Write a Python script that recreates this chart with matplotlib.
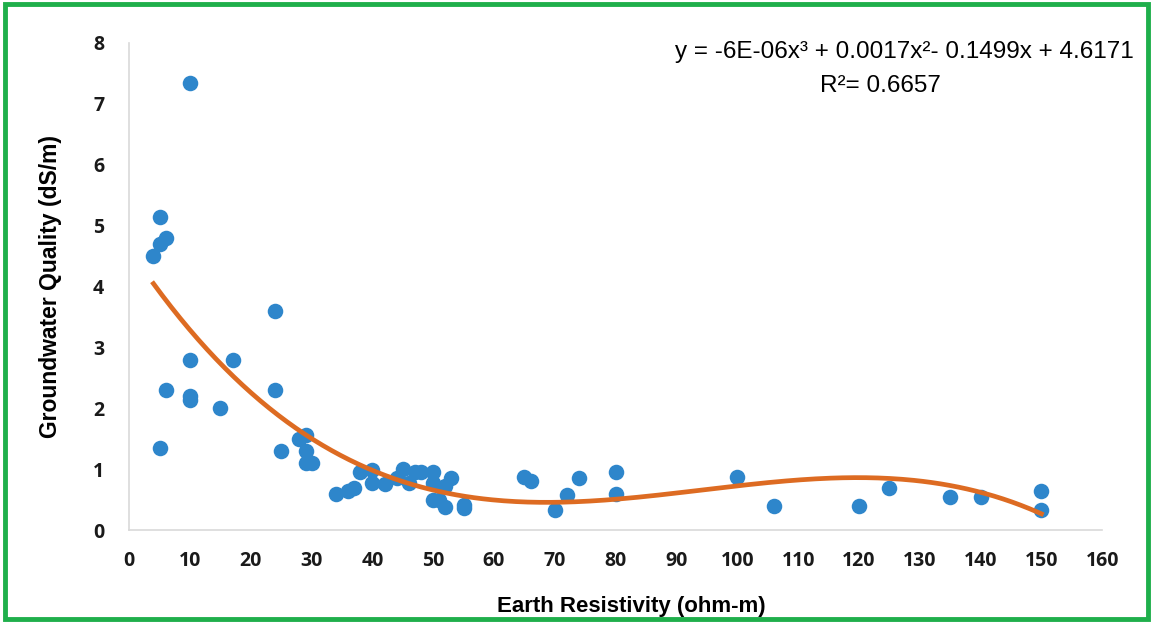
import matplotlib.pyplot as plt
import matplotlib.patches as patches
import numpy as np

plt.rcParams['font.family'] = ['Liberation Sans', 'DejaVu Sans']

# Earth resistivity (ohm-m)
resistivity = np.array([4, 5, 5, 6, 5, 6, 10, 10, 10, 10, 15, 17, 24, 24, 25,
                        28, 29, 29, 29, 30, 34, 36, 37, 38, 40, 40, 42, 44, 45,
                        46, 47, 48, 50, 50, 50, 51, 52, 52, 53, 55, 55, 65, 66,
                        70, 72, 74, 80, 80, 100, 106, 120, 125, 135, 140, 150, 150])

# Groundwater quality (dS/m)
quality = np.array([4.5, 5.15, 4.7, 4.8, 1.35, 2.3, 7.35, 2.8, 2.2, 2.13, 2.0, 2.8, 3.6, 2.3, 1.3,
                    1.5, 1.57, 1.3, 1.1, 1.1, 0.6, 0.65, 0.7, 0.95, 0.98, 0.78, 0.75, 0.85, 1.0,
                    0.78, 0.95, 0.95, 0.95, 0.77, 0.5, 0.5, 0.72, 0.38, 0.85, 0.42, 0.36, 0.87, 0.8,
                    0.33, 0.57, 0.85, 0.95, 0.6, 0.87, 0.4, 0.4, 0.7, 0.55, 0.55, 0.65, 0.33])

xticks = np.arange(0, 161, 10)
yticks = np.arange(0, 9, 1)

# cubic trendline through the points
coef = np.polyfit(resistivity, quality, 3)
xfit = np.linspace(resistivity.min(), resistivity.max(), 300)
yfit = np.polyval(coef, xfit)

fig = plt.figure(figsize=(11.53, 6.23), dpi=100)
ax = fig.add_axes([0.112, 0.149, 0.844, 0.782])

ax.scatter(resistivity, quality, s=125, color='#2E86CB', zorder=3, linewidths=0)
ax.plot(xfit, yfit, color='#DD6B22', linewidth=3.4, zorder=4)

ax.set_xlim(0, 160)
ax.set_ylim(0, 8)
ax.set_xticks(xticks)
ax.set_yticks(yticks)
ax.tick_params(axis='x', length=0, labelsize=14, pad=15, colors='#1a1a1a')
ax.tick_params(axis='y', length=0, labelsize=14, pad=18, colors='#1a1a1a')
for lbl in ax.get_xticklabels() + ax.get_yticklabels():
    lbl.set_fontfamily(['Open Sans', 'DejaVu Sans'])
    lbl.set_fontweight('bold')
for s in ['top', 'right']:
    ax.spines[s].set_visible(False)
for s in ['left', 'bottom']:
    ax.spines[s].set_color('#d9d9d9')
    ax.spines[s].set_linewidth(1.2)

ax.set_xlabel("Earth Resistivity (ohm-m)", fontsize=16, fontweight='bold')
ax.xaxis.set_label_coords(0.516, -0.135)
ax.set_ylabel("Groundwater Quality (dS/m)", fontsize=16.5, fontweight='bold', labelpad=22)

fig.text(0.784, 0.916, "y = -6E-06x\u00b3 + 0.0017x\u00b2- 0.1499x + 4.6171",
         ha='center', va='center', fontsize=17.5)
fig.text(0.764, 0.862, "R\u00b2= 0.6657", ha='center', va='center', fontsize=17.5)

border = patches.Rectangle((0.004, 0.006), 0.992, 0.988, transform=fig.transFigure,
                           fill=False, edgecolor='#1FAF4B', linewidth=3.5)
fig.patches.append(border)

fig.savefig("out.png", dpi=100)
